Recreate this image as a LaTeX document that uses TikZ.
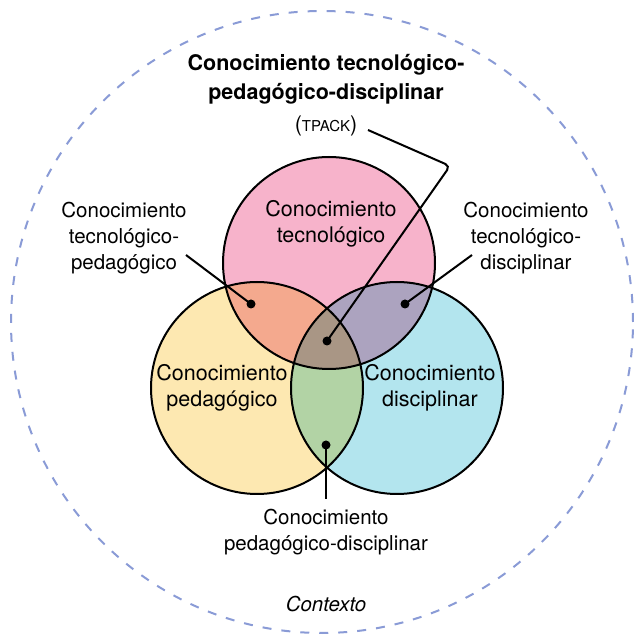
\documentclass[tikz,border=0pt]{standalone}
\usepackage{fontspec}
\setmainfont{TeX Gyre Heros}
\usepackage{tikz}

\definecolor{rosa}{HTML}{F7B3CB}
\definecolor{amarillo}{HTML}{FDE8B1}
\definecolor{celeste}{HTML}{B3E5EE}
\definecolor{salmon}{HTML}{F4A98E}
\definecolor{lila}{HTML}{ACA3BF}
\definecolor{verde}{HTML}{B2D3A5}
\definecolor{cafe}{HTML}{A99685}
\definecolor{contexto}{HTML}{8A9BD6}

\begin{document}
\begin{tikzpicture}[x = 1pt, y = 1pt,
        etiqueta/.style = {align=center, font=\fontsize{21.5}{26}\selectfont},
        nota/.style = {align=center, font=\fontsize{20.5}{26}\selectfont},
        guia/.style = {line width=2pt, rounded corners=5pt},
        punto/.style = {circle, fill=black, inner sep=0pt, minimum size=9pt}]
        \useasboundingbox (0,0) rectangle (633,635);
        % contexto
        \draw[contexto, line width=2pt, dash pattern=on 9pt off 10pt] (322,313) circle [radius=311];
        \coordinate (T) at (329,372);
        \coordinate (P) at (257,247);
        \coordinate (D) at (397,247);
        \fill[rosa] (T) circle [radius=106];
        \fill[amarillo] (P) circle [radius=106];
        \fill[celeste] (D) circle [radius=106];
        \begin{scope}
          \clip (T) circle [radius=106];
          \fill[salmon] (P) circle [radius=106];
          \fill[lila] (D) circle [radius=106];
        \end{scope}
        \begin{scope}
          \clip (P) circle [radius=106];
          \fill[verde] (D) circle [radius=106];
          \clip (D) circle [radius=106];
          \fill[cafe] (T) circle [radius=106];
        \end{scope}
        \draw[line width=2pt] (T) circle [radius=106] (P) circle [radius=106] (D) circle [radius=106];
        % textos
        \node[etiqueta] (tec) at (331,411) {Conocimiento\\tecnológico};
        \node[etiqueta] (ped) at (222,247) {Conocimiento\\pedagógico};
        \node[etiqueta] (dis) at (430,247) {Conocimiento\\disciplinar};
        \node[etiqueta, font=\fontsize{21.5}{28.5}\selectfont\bfseries] (titulo) at (326,555.5) {Conocimiento tecnológico-\\pedagógico-disciplinar};
        \node[etiqueta] (tpack) at (326,509) {({\fontsize{15}{15}\selectfont TPACK})};
        \node[nota] (tp) at (124,397) {Conocimiento\\tecnológico-\\pedagógico};
        \node[nota] (td) at (526,397) {Conocimiento\\tecnológico-\\disciplinar};
        \node[nota] (pd) at (326,103) {Conocimiento\\pedagógico-disciplinar};
        \node[font=\fontsize{20.5}{26}\selectfont\itshape] (ctx) at (326,31) {Contexto};
        % guias
        \node[punto] (ptp) at (251,331) {};
        \node[punto] (ptd) at (405,331) {};
        \node[punto] (ptpack) at (327,294) {};
        \node[punto] (ppd) at (326,190) {};
        \coordinate (atp) at (186,380);
        \coordinate (atd) at (472,380);
        \coordinate (atpack) at (368,505);
        \coordinate (codo) at (450,469);
        \coordinate (apd) at (326,136);
        \draw[guia] (atp) -- (ptp.center);
        \draw[guia] (atd) -- (ptd.center);
        \draw[guia] (atpack) -- (codo) -- (ptpack.center);
        \draw[guia] (apd) -- (ppd.center);
      \end{tikzpicture}
\end{document}
